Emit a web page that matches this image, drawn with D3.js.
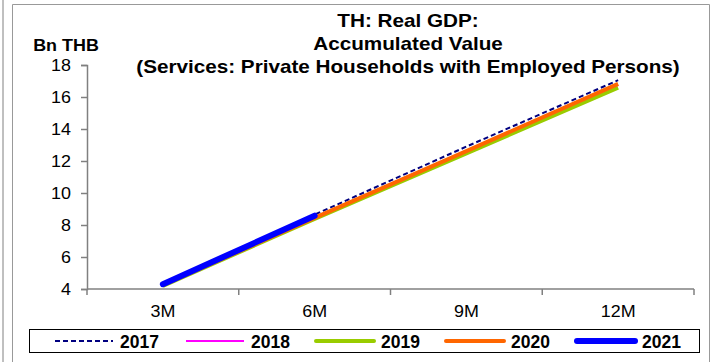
<!DOCTYPE html>
<html><head><meta charset="utf-8">
<script src="https://cdn.jsdelivr.net/npm/d3@7/dist/d3.min.js"></script>
<style>
html,body{margin:0;padding:0;background:#fff;}
svg{display:block;font-family:"Liberation Sans",Arial,sans-serif;}
</style></head>
<body>
<script>
const categories = ["3M","6M","9M","12M"];
const years = ["2017","2018","2019","2020","2021"];
const v2017 = [4.30, 8.65, 12.90, 17.05];
const v2018 = [4.25, 8.45, 12.60, 16.75];
const v2019 = [4.20, 8.38, 12.48, 16.58];
const v2020 = [4.25, 8.45, 12.62, 16.82];
const v2021 = [4.30, 8.58];
const yTicks = [4,6,8,10,12,14,16,18];
const titleLines = ["TH: Real GDP:", "Accumulated Value", "(Services: Private Households with Employed Persons)"];
const yUnit = "Bn THB";

const seriesValues = [v2017, v2018, v2019, v2020, v2021];
const styles = [
  {color:"#000080", width:2, dash:"5,3"},
  {color:"#ff00ff", width:2, dash:null},
  {color:"#99cc00", width:4, dash:null},
  {color:"#ff6600", width:4, dash:null},
  {color:"#0000ff", width:6, dash:null}
];

const W = 712, H = 362;
const SX = 1.12;
const svg = d3.select("body").append("svg").attr("width", W).attr("height", H);

// frames
svg.append("line").attr("x1",3).attr("x2",3).attr("y1",0).attr("y2",H).attr("stroke","#808080").attr("stroke-width",1);
svg.append("path").attr("d",`M12.5,${H} V4.5 H709.5 V${H}`).attr("fill","none").attr("stroke","#999").attr("stroke-width",1);

const x = d3.scaleBand().domain(categories).range([87, 694]).paddingInner(0).paddingOuter(0);
const y = d3.scaleLinear().domain([4, 18]).range([289, 65]);

// title
titleLines.forEach((t,i)=>{
  svg.append("text").attr("transform",`translate(408,${26.5 + i*23}) scale(1.15,1)`)
    .attr("text-anchor","middle").attr("font-weight","bold").attr("font-size",18).attr("fill","#000").text(t);
});
svg.append("text").attr("transform",`translate(66,50.5) scale(${SX},1)`).attr("text-anchor","middle")
  .attr("font-weight","bold").attr("font-size",16).text(yUnit);

// y axis
const yAxis = d3.axisLeft(y).tickValues(yTicks).tickSize(6).tickPadding(10).tickFormat(d3.format("d"));
const gy = svg.append("g").attr("transform","translate(87,0)").call(yAxis);
gy.select(".domain").attr("stroke","#808080").attr("stroke-width",1.5);
gy.selectAll(".tick line").attr("stroke","#808080").attr("stroke-width",1.5);
gy.selectAll(".tick text").attr("font-size",16).attr("fill","#000").attr("font-family","Liberation Sans, Arial, sans-serif")
  .attr("x",-16/SX).attr("transform",`scale(${SX},1)`);

// x axis
const gx = svg.append("g").attr("transform","translate(0,289)");
gx.append("line").attr("x1",x.range()[0]).attr("x2",x.range()[1]).attr("stroke","#808080").attr("stroke-width",1.5);
const bounds = categories.map(c=>x(c)).concat([x(categories[categories.length-1])+x.bandwidth()]);
gx.selectAll("line.tk").data(bounds).enter().append("line").attr("class","tk")
  .attr("x1",d=>d).attr("x2",d=>d).attr("y1",0).attr("y2",6).attr("stroke","#808080").attr("stroke-width",1.5);
gx.selectAll("text").data(categories).enter().append("text")
  .attr("transform",d=>`translate(${x(d)+x.bandwidth()/2},27.5) scale(${SX},1)`)
  .attr("text-anchor","middle").attr("font-size",16).text(d=>d);

// lines
const line = d3.line().x((d,i)=>x(categories[i])+x.bandwidth()/2).y(d=>y(d));
seriesValues.forEach((vals,k)=>{
  const s = styles[k];
  const p = svg.append("path").datum(vals).attr("d",line).attr("fill","none")
    .attr("stroke",s.color).attr("stroke-width",s.width).attr("stroke-linecap", k===4?"round":"butt");
  if (s.dash) p.attr("stroke-dasharray",s.dash);
});

// legend
svg.append("rect").attr("x",29.5).attr("y",329.5).attr("width",670).attr("height",23).attr("fill","#fff").attr("stroke","#000").attr("stroke-width",1);
const legX = [55, 186, 316, 446, 577];
years.forEach((yr,k)=>{
  const s = styles[k];
  const g = svg.append("g");
  const l = g.append("line").attr("x1",legX[k]).attr("x2",legX[k]+58).attr("y1",341).attr("y2",341)
    .attr("stroke",s.color).attr("stroke-width",s.width).attr("stroke-linecap", k>=2?"round":"butt");
  if (s.dash) l.attr("stroke-dasharray",s.dash);
  g.append("text").attr("x",legX[k]+65).attr("y",347.5).attr("font-weight","bold").attr("font-size",17.5).text(yr);
});
</script>
</body></html>
